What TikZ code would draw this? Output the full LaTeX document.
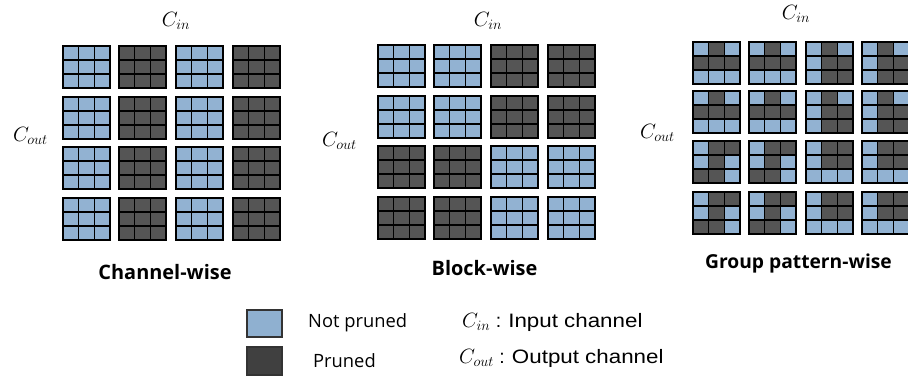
\documentclass[tikz,border=0pt]{standalone}
\usepackage{fontspec}
\usepackage{graphicx}
\newfontfamily\osans{Open Sans}
\newfontfamily\lsans{Liberation Sans}
\definecolor{cB}{RGB}{146,178,210}
\definecolor{cD}{RGB}{85,85,85}
\definecolor{lgB}{RGB}{143,176,208}
\definecolor{lgD}{RGB}{64,64,64}
\tikzset{
  gridline/.style={draw=black,line width=1.6bp},
  title/.style={font=\osans\bfseries\fontsize{20}{24}\selectfont,inner sep=0pt,anchor=base},
  mlabel/.style={font=\fontsize{20}{24}\selectfont,inner sep=0pt},
  legtext/.style={font=\osans\fontsize{18.4}{22}\selectfont,inner sep=0pt,anchor=west},
  legtext2/.style={font=\lsans\fontsize{19.5}{22}\selectfont,inner sep=0pt,anchor=west},
  legbox/.style={draw=black!80,line width=1.2bp}
}
\newcommand\hs[1]{\scalebox{1.15}[1]{#1}}
\newcommand\kblock[3]{%
  \foreach \v [count=\i from 0] in #3 {
    \pgfmathtruncatemacro\cx{mod(\i,3)}
    \pgfmathtruncatemacro\cy{div(\i,3)}
    \ifnum\v=1 \def\cc{cB}\else\def\cc{cD}\fi
    \fill[\cc] ({#1+\cx*47/3},{#2+\cy*14}) rectangle ++(47/3,14);
  }
  \draw[gridline] (#1,#2) rectangle ++(47,42);
  \draw[gridline] ({#1+47/3},#2) -- ++(0,42) ({#1+94/3},#2) -- ++(0,42)
     (#1,{#2+14}) -- ++(47,0) (#1,{#2+28}) -- ++(47,0);
}
\def\AB{1,1,1,1,1,1,1,1,1}
\def\AD{0,0,0,0,0,0,0,0,0}
\def\PA{1,0,1,0,0,0,1,1,1}
\def\PB{1,0,1,1,0,0,1,0,0}
\def\PC{1,0,0,1,0,1,0,0,1}
\def\PD{1,0,0,1,0,0,1,1,1}
\begin{document}
\begin{tikzpicture}[x=1bp,y=-1bp]
\useasboundingbox (0,0) rectangle (908,376);
\fill[white] (0,0) rectangle (908,376);
% Channel-wise
\foreach \yy in {46,97,147,198} {
  \kblock{63}{\yy}{\AB}
  \kblock{119}{\yy}{\AD}
  \kblock{176}{\yy}{\AB}
  \kblock{233}{\yy}{\AD}
}
% Block-wise
\foreach \yy in {45,96} {
  \kblock{378}{\yy}{\AB}
  \kblock{434}{\yy}{\AB}
  \kblock{491}{\yy}{\AD}
  \kblock{548}{\yy}{\AD}
}
\foreach \yy in {146,197} {
  \kblock{378}{\yy}{\AD}
  \kblock{434}{\yy}{\AD}
  \kblock{491}{\yy}{\AB}
  \kblock{548}{\yy}{\AB}
}
% Group pattern-wise
\foreach \yy in {42,91} {
  \kblock{693}{\yy}{\PA}
  \kblock{749}{\yy}{\PA}
  \kblock{806}{\yy}{\PB}
  \kblock{862}{\yy}{\PB}
}
\foreach \yy in {141,192} {
  \kblock{693}{\yy}{\PC}
  \kblock{749}{\yy}{\PC}
  \kblock{806}{\yy}{\PD}
  \kblock{862}{\yy}{\PD}
}
% axis labels
\node[mlabel,anchor=base] (cin1) at (176,26) {$C_{in}$};
\node[mlabel,anchor=base] (cin2) at (488,26) {$C_{in}$};
\node[mlabel,anchor=base] (cin3) at (796,19) {$C_{in}$};
\node[mlabel,anchor=base east] (cout1) at (48,141) {$C_{out}$};
\node[mlabel,anchor=base east] (cout2) at (357,146) {$C_{out}$};
\node[mlabel,anchor=base east] (cout3) at (675,138) {$C_{out}$};
% titles
\node[title] (t1) at (165,279) {Channel-wise};
\node[title] (t2) at (484.5,275) {Block-wise};
\node[title,anchor=base east,font=\osans\bfseries\fontsize{19.3}{24}\selectfont] (t3) at (892,268) {Group pattern-wise};
% legend
\draw[legbox,fill=lgB] (247,310) rectangle (282,337);
\draw[legbox,fill=lgD] (247,347) rectangle (282,375);
\node[legtext] (np) at (308,323) {Not pruned};
\node[legtext] (pr) at (313,361) {Pruned};
\node[legtext2] (li) at (462,322) {$C_{in}$ : \hs{Input channel}};
\node[legtext2] (lo) at (459,358) {$C_{out}$ : \hs{Output channel}};
\end{tikzpicture}
\end{document}
